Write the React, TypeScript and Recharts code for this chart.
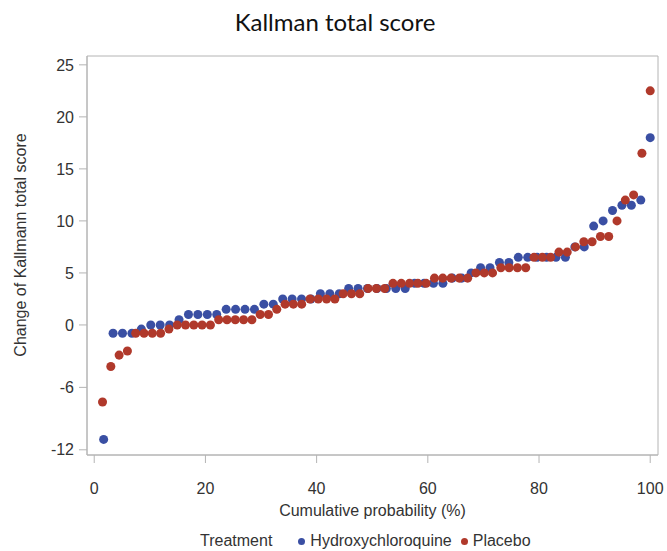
import { ScatterChart, Scatter, XAxis, YAxis, ReferenceArea } from "recharts";

// sorted change scores
const hcqScores = [
  -11, -0.8, -0.8, -0.8, -0.4, 0, 0, 0, 0.5, 1, 1, 1, 1, 1.5, 1.5, 1.5, 1.5, 2, 2,
  2.5, 2.5, 2.5, 2.5, 3, 3, 3, 3.5, 3.5, 3.5, 3.5, 3.5, 3.5, 3.5, 4, 4, 4, 4, 4.5,
  4.5, 5, 5.5, 5.5, 6, 6, 6.5, 6.5, 6.5, 6.5, 6.5, 6.5, 7.5, 7.5, 9.5, 10, 11, 11.5,
  11.5, 12, 18,
];
const placeboScores = [
  -7.4, -4, -2.9, -2.5, -0.8, -0.8, -0.8, -0.8, -0.4, 0, 0, 0, 0, 0, 0.5, 0.5, 0.5,
  0.5, 0.5, 1, 1, 1.5, 2, 2, 2, 2.5, 2.5, 2.5, 2.5, 3, 3, 3, 3.5, 3.5, 3.5, 4, 4, 4,
  4, 4, 4.5, 4.5, 4.5, 4.5, 4.5, 5, 5, 5, 5.5, 5.5, 5.5, 5.5, 6.5, 6.5, 6.5, 7, 7,
  7.5, 8, 8, 8.5, 8.5, 10, 12, 12.5, 16.5, 22.5,
];
const xTicks = [0, 20, 40, 60, 80, 100];
const yTicks = [-12, -6, 0, 5, 10, 15, 20, 25];

const BLUE = "#3a4fa3";
const RED = "#b0392b";
const AXIS = "#b4b4b4";
const TEXT = "#333";

// empirical cumulative probability (%) for each sorted score
function toCumulative(scores: number[]) {
  return scores.map((score, i) => ({ prob: ((i + 1) / scores.length) * 100, score }));
}

const hcqData = toCumulative(hcqScores);
const placeboData = toCumulative(placeboScores);

const tickStyle = { fill: TEXT, fontSize: 16, fontFamily: "Liberation Sans, Arial" };

export default function App() {
  return (
    <div
      style={{
        position: "absolute",
        left: 0,
        top: 0,
        width: 667,
        height: 551,
        background: "#fff",
        fontFamily: "Liberation Sans, Arial, sans-serif",
        color: TEXT,
      }}
    >
      <div
        style={{
          position: "absolute",
          top: 10,
          left: 0,
          width: 670,
          textAlign: "center",
          fontFamily: "Lato, sans-serif",
          fontSize: 24,
          lineHeight: "24px",
          color: "#111",
        }}
      >
        Kallman total score
      </div>

      <ScatterChart width={667} height={551} margin={{ top: 56, right: 9, bottom: 0, left: 0 }}>
        <XAxis
          type="number"
          dataKey="prob"
          domain={[-1.3, 101.4]}
          ticks={xTicks}
          allowDataOverflow
          height={96}
          tickSize={8}
          tickMargin={20}
          tick={tickStyle}
          axisLine={{ stroke: AXIS }}
          tickLine={{ stroke: AXIS }}
          label={{
            value: "Cumulative probability (%)",
            position: "insideTop",
            offset: 50,
            fill: TEXT,
            fontSize: 16,
          }}
        />
        <YAxis
          type="number"
          dataKey="score"
          domain={[-12.5, 25.85]}
          ticks={yTicks}
          allowDataOverflow
          width={87}
          tickSize={8}
          tickMargin={5}
          tick={tickStyle}
          axisLine={{ stroke: AXIS }}
          tickLine={{ stroke: AXIS }}
          label={() => (
            <text
              x={20}
              y={245}
              transform="rotate(-90, 20, 245)"
              textAnchor="middle"
              dominantBaseline="central"
              fontSize={16}
              fill={TEXT}
            >
              Change of Kallmann total score
            </text>
          )}
        />
        <ReferenceArea x1={-1.3} x2={101.4} y1={-12.5} y2={25.85} fill="none" stroke={AXIS} />
        <Scatter name="Hydroxychloroquine" data={hcqData} fill={BLUE} isAnimationActive={false} />
        <Scatter name="Placebo" data={placeboData} fill={RED} isAnimationActive={false} />
      </ScatterChart>

      <div
        style={{
          position: "absolute",
          top: 533,
          left: 200,
          display: "flex",
          alignItems: "center",
          fontSize: 16,
          lineHeight: "16px",
          whiteSpace: "nowrap",
        }}
      >
        <span>Treatment</span>
        <span style={{ width: 7, height: 7, borderRadius: "50%", background: BLUE, marginLeft: 26, marginRight: 5 }} />
        <span>Hydroxychloroquine</span>
        <span style={{ width: 7, height: 7, borderRadius: "50%", background: RED, marginLeft: 9, marginRight: 5 }} />
        <span>Placebo</span>
      </div>
    </div>
  );
}
